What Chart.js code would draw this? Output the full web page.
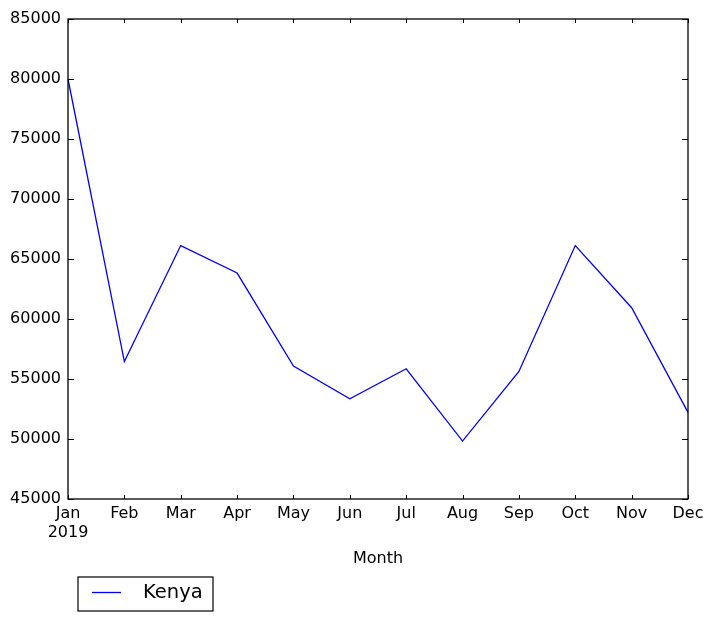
<!DOCTYPE html>
<html>
<head>
<meta charset="utf-8">
<script src="https://cdn.jsdelivr.net/npm/chart.js@4/dist/chart.umd.min.js"></script>
<style>
html,body{margin:0;padding:0;background:#fff;}
#wrap{width:714px;height:621px;position:relative;}
</style>
</head>
<body>
<div id="wrap"><canvas id="c" width="714" height="621"></canvas></div>
<script>
const months = ['Jan','Feb','Mar','Apr','May','Jun','Jul','Aug','Sep','Oct','Nov','Dec'];
const yearLabel = '2019';
const kenya = [80000, 56450, 66120, 63830, 56080, 53350, 55850, 49830, 55630, 66120, 60940, 52220];
const seriesName = 'Kenya';
const xTitle = 'Month';
const yMin = 45000, yMax = 85000, yStep = 5000;

const FONT = 'DejaVu Sans';

const framePlugin = {
  id: 'frame',
  afterDraw(chart) {
    const ctx = chart.ctx;
    const a = chart.chartArea;
    const xs = chart.scales.x, ys = chart.scales.y;
    ctx.save();
    ctx.strokeStyle = '#000';
    ctx.lineWidth = 1.3;
    ctx.strokeRect(a.left, a.top, a.right - a.left, a.bottom - a.top);
    ctx.lineWidth = 1;
    ctx.beginPath();
    for (let i = 0; i < months.length; i++) {
      const px = Math.round(xs.getPixelForValue(i)) + 0.5;
      ctx.moveTo(px, a.bottom); ctx.lineTo(px, a.bottom - 4);
      ctx.moveTo(px, a.top); ctx.lineTo(px, a.top + 4);
    }
    for (const t of ys.ticks) {
      const py = Math.round(ys.getPixelForValue(t.value)) + 0.5;
      ctx.moveTo(a.left, py); ctx.lineTo(a.left + 6, py);
      ctx.moveTo(a.right, py); ctx.lineTo(a.right - 6, py);
    }
    ctx.stroke();

    // legend
    const ds = chart.data.datasets[0];
    const bx = a.left + 10, by = a.bottom + 78, bw = 135, bh = 34;
    ctx.lineWidth = 1.2;
    ctx.strokeStyle = '#000';
    ctx.strokeRect(bx, by, bw, bh);
    ctx.strokeStyle = ds.borderColor;
    ctx.lineWidth = ds.borderWidth;
    ctx.beginPath();
    ctx.moveTo(bx + 14, by + 15.5); ctx.lineTo(bx + 43, by + 15.5);
    ctx.stroke();
    ctx.fillStyle = '#000';
    ctx.font = '19.5px "' + FONT + '"';
    ctx.textBaseline = 'middle';
    ctx.textAlign = 'left';
    ctx.fillText(ds.label, bx + 65, by + 16);
    ctx.restore();
  }
};

new Chart(document.getElementById('c'), {
  type: 'line',
  data: {
    labels: months,
    datasets: [{
      label: seriesName,
      data: kenya,
      borderColor: '#0000ff',
      borderWidth: 1.3,
      pointRadius: 0,
      fill: false,
      tension: 0
    }]
  },
  options: {
    responsive: false,
    animation: false,
    events: [],
    layout: { padding: { top: 19, right: 26, left: 0, bottom: 0 } },
    plugins: { legend: { display: false }, tooltip: { enabled: false } },
    scales: {
      x: {
        type: 'category',
        offset: false,
        grid: { display: false, drawTicks: false },
        border: { display: false },
        ticks: {
          color: '#000',
          font: { family: FONT, size: 16 },
          padding: 5,
          autoSkip: false,
          maxRotation: 0,
          callback: function(v, i) { return i === 0 ? [months[i], yearLabel] : months[i]; }
        },
        title: {
          display: true, text: xTitle, color: '#000',
          font: { family: FONT, size: 16 },
          padding: { top: 0, bottom: 53 }
        },
        afterFit(scale) { scale.height = 122; }
      },
      y: {
        min: yMin, max: yMax,
        grid: { display: false, drawTicks: false },
        border: { display: false },
        ticks: {
          stepSize: yStep,
          color: '#000',
          font: { family: FONT, size: 16 },
          padding: 7,
          callback: v => String(v)
        },
        afterFit(scale) { scale.width = 68; }
      }
    }
  },
  plugins: [framePlugin]
});
</script>
</body>
</html>
